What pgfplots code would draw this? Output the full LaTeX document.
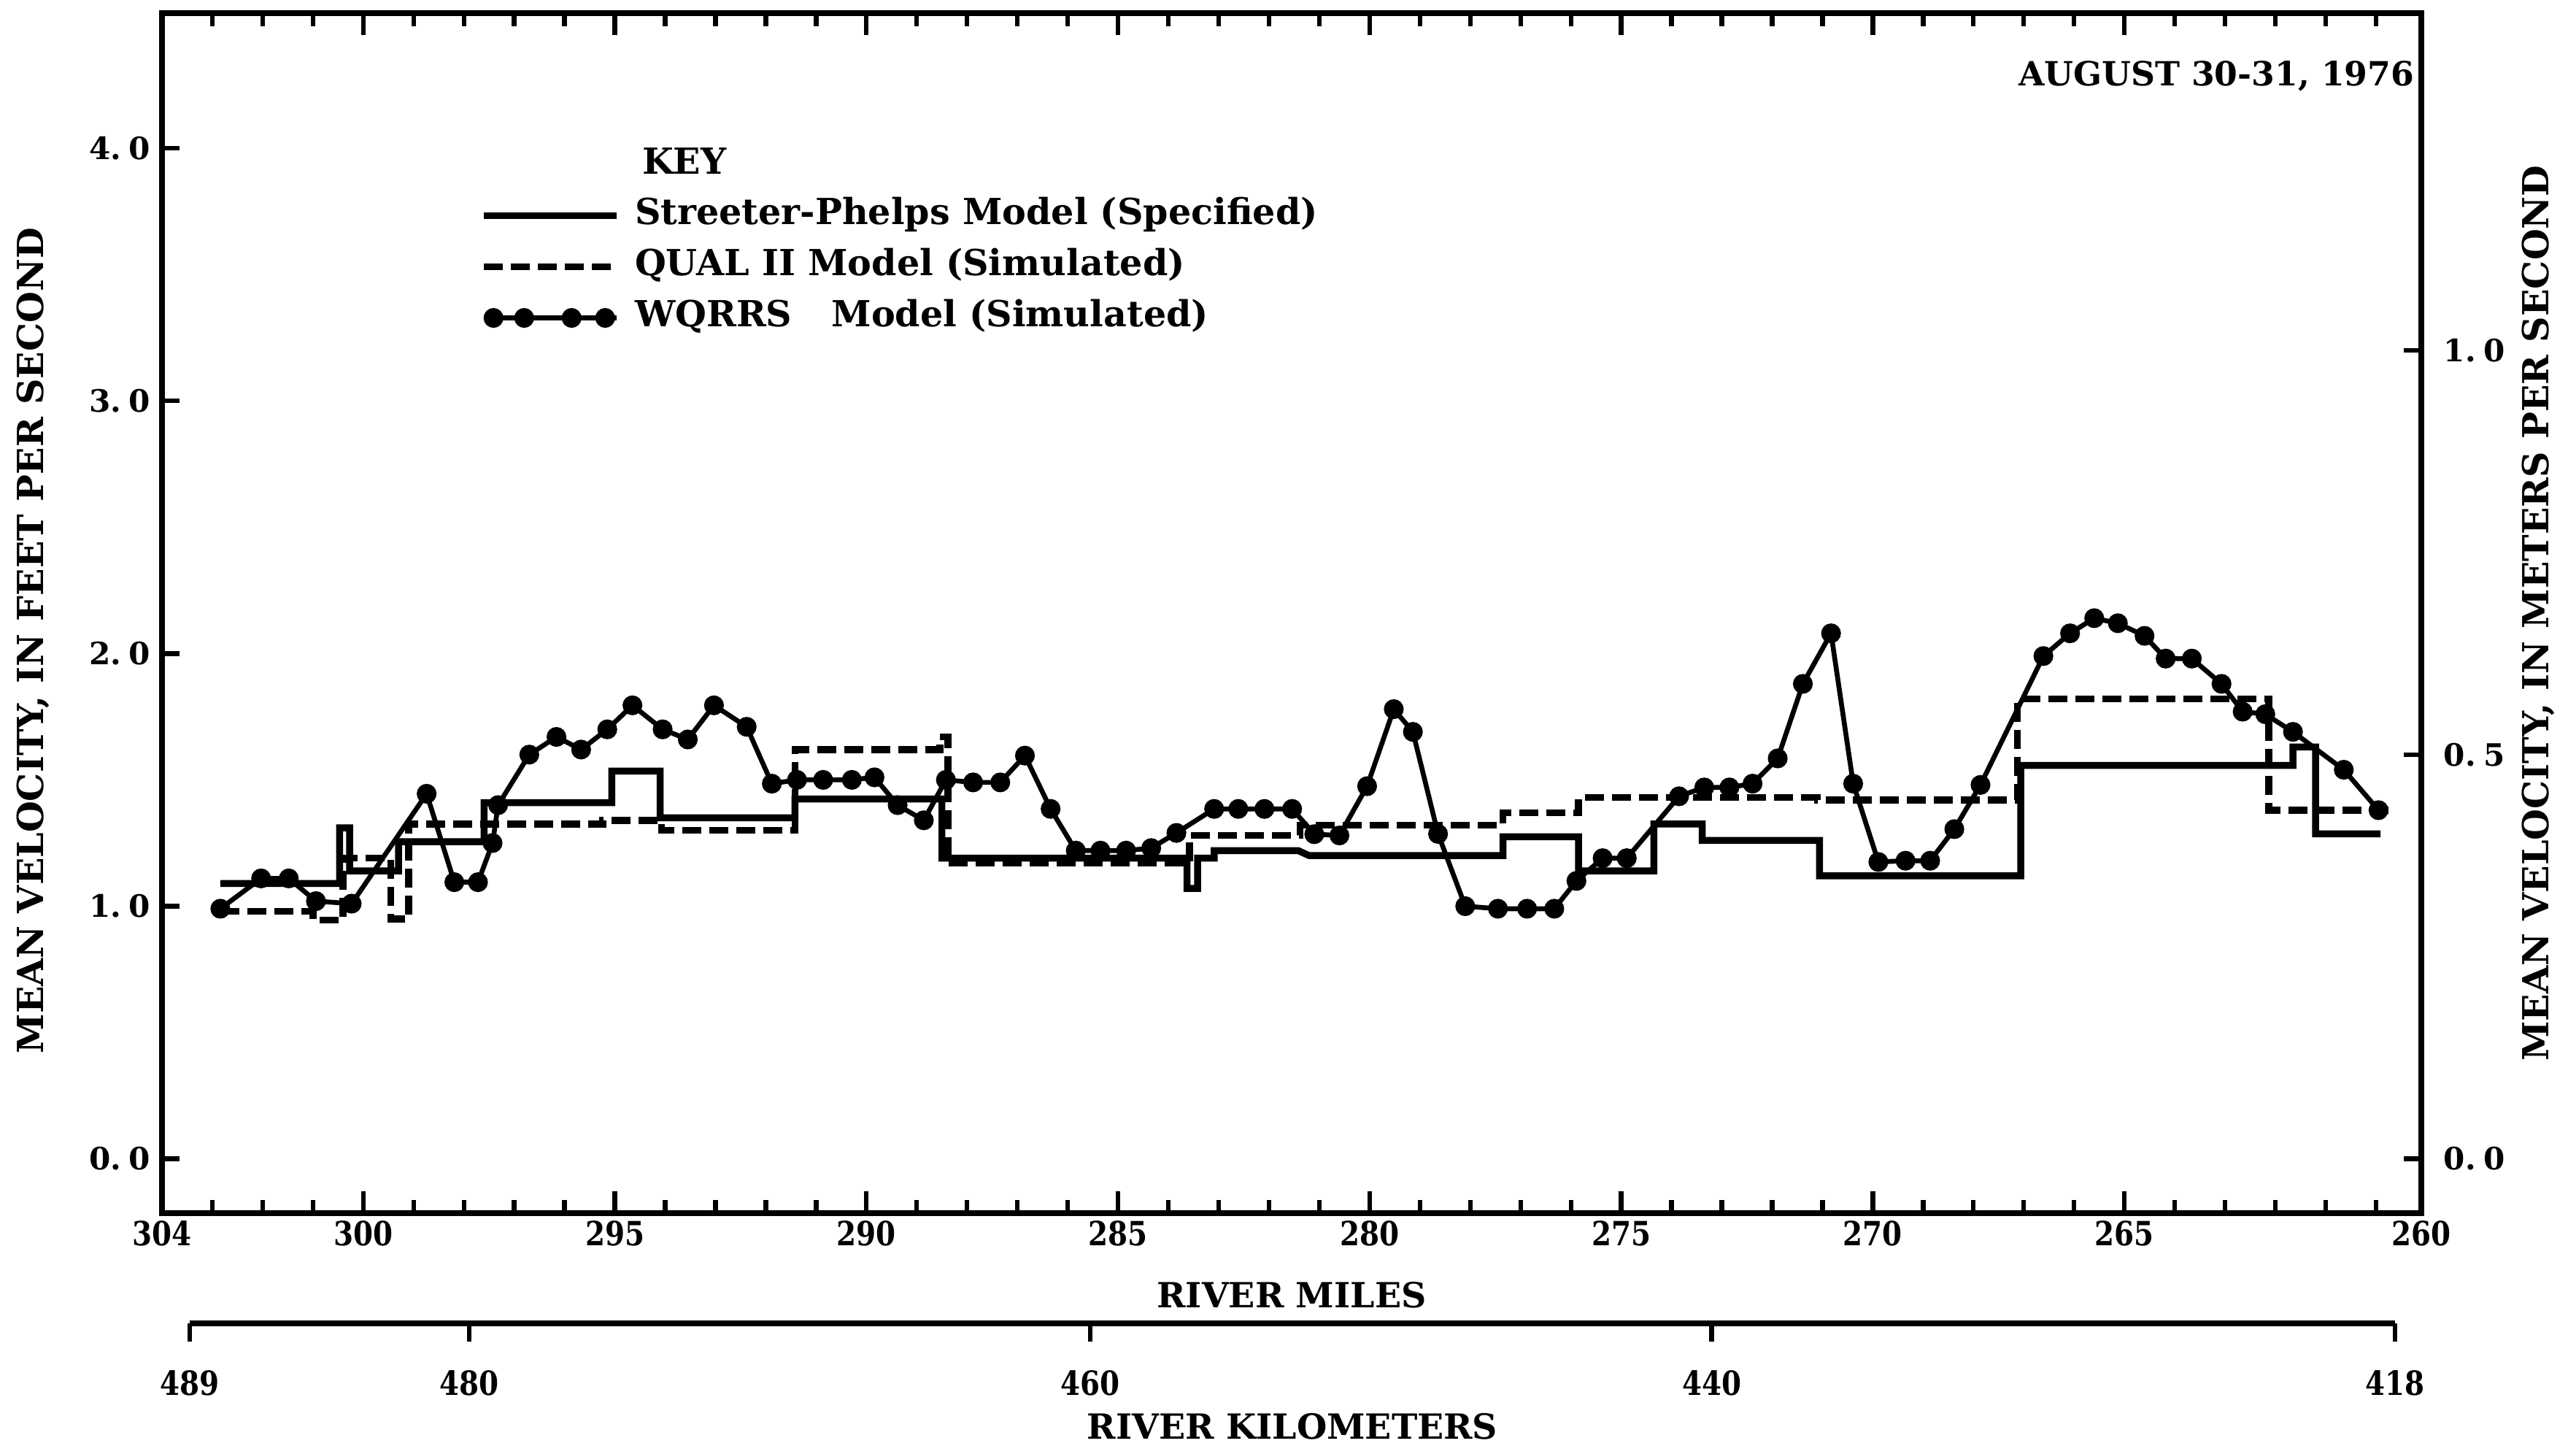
\documentclass[border=0pt]{standalone}
\usepackage{pgfplots}
\pgfplotsset{compat=1.18}
\usepackage{pgfplotstable}
\usepackage{fontspec}
\setmainfont{DejaVu Serif}
\newfontfamily\condfont{DejaVu Serif}[FakeStretch=0.85]

\pgfplotstableread{
x y
302.84 1.09
300.47 1.09
300.47 1.31
300.27 1.31
300.27 1.14
299.30 1.14
299.30 1.255
297.60 1.255
297.60 1.41
295.06 1.41
295.06 1.535
294.10 1.535
294.10 1.35
291.42 1.35
291.42 1.424
288.50 1.424
288.50 1.19
283.63 1.19
283.63 1.07
283.42 1.07
283.42 1.19
283.09 1.19
283.09 1.22
281.42 1.22
281.20 1.20
277.35 1.20
277.35 1.275
275.85 1.275
275.85 1.14
274.35 1.14
274.35 1.325
273.39 1.325
273.39 1.26
271.06 1.26
271.06 1.12
267.06 1.12
267.06 1.557
261.65 1.557
261.65 1.63
261.20 1.63
261.20 1.286
259.91 1.286
}\sptable

\pgfplotstableread{
x y
302.84 0.98
301.00 0.98
301.00 0.945
300.40 0.945
300.40 1.19
299.45 1.19
299.45 0.95
299.10 0.95
299.10 1.325
295.24 1.325
295.24 1.34
294.07 1.34
294.07 1.30
291.42 1.30
291.42 1.62
288.54 1.62
288.54 1.67
288.38 1.67
288.38 1.17
283.58 1.17
283.58 1.28
281.38 1.28
281.38 1.32
277.35 1.32
277.35 1.37
275.85 1.37
275.85 1.43
271.10 1.43
271.10 1.42
267.13 1.42
267.13 1.82
262.13 1.82
262.13 1.38
259.70 1.38
}\qualtable

\pgfplotstableread{
x y
302.84 0.99
302.03 1.11
301.48 1.11
300.94 1.02
300.23 1.01
298.74 1.445
298.19 1.095
297.72 1.095
297.43 1.25
297.32 1.40
296.70 1.60
296.16 1.67
295.67 1.62
295.15 1.70
294.65 1.795
294.05 1.70
293.55 1.66
293.03 1.795
292.38 1.71
291.88 1.485
291.38 1.50
290.86 1.50
290.29 1.50
289.84 1.51
289.38 1.40
288.86 1.34
288.42 1.50
287.88 1.49
287.34 1.49
286.85 1.596
286.34 1.385
285.84 1.22
285.35 1.22
284.84 1.22
284.34 1.23
283.84 1.29
283.09 1.385
282.61 1.385
282.09 1.385
281.54 1.385
281.10 1.285
280.60 1.28
280.05 1.475
279.52 1.78
279.14 1.69
278.64 1.286
278.10 1.00
277.45 0.99
276.87 0.99
276.33 0.99
275.89 1.10
275.37 1.19
274.89 1.19
273.85 1.435
273.35 1.47
272.85 1.47
272.39 1.485
271.89 1.585
271.39 1.88
270.83 2.08
270.39 1.485
269.89 1.175
269.35 1.18
268.86 1.18
268.38 1.305
267.86 1.48
266.61 1.99
266.08 2.08
265.60 2.14
265.13 2.12
264.60 2.07
264.18 1.98
263.66 1.98
263.07 1.88
262.65 1.77
262.20 1.76
261.65 1.69
260.64 1.54
259.95 1.38
}\wqtable

% positions of the short mile ticks and of the long 5-mile ticks (bottom and top edges)
\pgfplotstableread{
x lo hi
260 -0.215 4.535
261 -0.215 4.535
262 -0.215 4.535
263 -0.215 4.535
264 -0.215 4.535
266 -0.215 4.535
267 -0.215 4.535
268 -0.215 4.535
269 -0.215 4.535
271 -0.215 4.535
272 -0.215 4.535
273 -0.215 4.535
274 -0.215 4.535
276 -0.215 4.535
277 -0.215 4.535
278 -0.215 4.535
279 -0.215 4.535
281 -0.215 4.535
282 -0.215 4.535
283 -0.215 4.535
284 -0.215 4.535
286 -0.215 4.535
287 -0.215 4.535
288 -0.215 4.535
289 -0.215 4.535
291 -0.215 4.535
292 -0.215 4.535
293 -0.215 4.535
294 -0.215 4.535
296 -0.215 4.535
297 -0.215 4.535
298 -0.215 4.535
299 -0.215 4.535
301 -0.215 4.535
302 -0.215 4.535
303 -0.215 4.535
}\minorticks
\pgfplotstableread{
x lo hi
265 -0.215 4.535
270 -0.215 4.535
275 -0.215 4.535
280 -0.215 4.535
285 -0.215 4.535
290 -0.215 4.535
295 -0.215 4.535
300 -0.215 4.535
}\majorticks

\begin{document}
\begin{tikzpicture}
\path[use as bounding box] (0,0) rectangle (35.30cm,19.81cm);

% main axis (feet per second, river miles)
\begin{axis}[
  at={(2.22cm,3.19cm)}, anchor=south west,
  scale only axis, width=30.96cm, height=16.44cm,
  x dir=reverse, xmin=259.1, xmax=304,
  ymin=-0.215, ymax=4.535,
  clip=false,
  axis line style={line width=2.1pt},
  major tick length=0pt,
  xtick={304,300,295,290,285,280,275,270,265,259.1},
  xticklabels={304,300,295,290,285,280,275,270,265,260},
  ytick={0,1,2,3,4},
  yticklabels={0.\hspace{0.25em}0,1.\hspace{0.25em}0,2.\hspace{0.25em}0,3.\hspace{0.25em}0,4.\hspace{0.25em}0},
  ytick pos=left,
  xticklabel style={font=\condfont\bfseries\fontsize{13}{15}\selectfont, anchor=north, inner sep=0pt, yshift=-0.10cm},
  xticklabel pos=bottom,
  yticklabel style={font=\bfseries\fontsize{12}{14}\selectfont, anchor=east, inner sep=0pt, xshift=-0.15cm},
  xlabel={RIVER MILES},
  every axis x label/.style={at={(axis description cs:0.5,0)}, anchor=center, yshift=-1.12cm, font=\bfseries\fontsize{13.5}{16}\selectfont},
  ylabel={MEAN VELOCITY, IN FEET PER SECOND},
  every axis y label/.style={at={(axis description cs:-0.0572,0.477)}, anchor=center, rotate=90, font=\bfseries\fontsize{14}{17}\selectfont},
  legend style={at={(0.1408,0.889)}, anchor=north west, draw=none, fill=none, inner sep=0pt,
    row sep=5.9pt, column sep=0.2cm, font=\bfseries\fontsize{14}{17}\selectfont,
    nodes={inner sep=0pt, text height=10.5pt, text depth=3.5pt}},
  legend cell align=left,
]
% tick marks pointing into the frame
\addplot[forget plot, only marks, mark=|, mark size=0.09cm, mark options={yshift=0.09cm, line width=1.8pt, black}]
  table[x=x, y=lo] {\minorticks};
\addplot[forget plot, only marks, mark=|, mark size=0.15cm, mark options={yshift=0.15cm, line width=1.8pt, black}]
  table[x=x, y=lo] {\majorticks};
\addplot[forget plot, only marks, mark=|, mark size=0.09cm, mark options={yshift=-0.09cm, line width=1.8pt, black}]
  table[x=x, y=hi] {\minorticks};
\addplot[forget plot, only marks, mark=|, mark size=0.15cm, mark options={yshift=-0.15cm, line width=1.8pt, black}]
  table[x=x, y=hi] {\majorticks};
\addplot[forget plot, only marks, mark=-, mark size=0.12cm, mark options={xshift=0.12cm, line width=1.8pt, black}]
  coordinates {(304,0) (304,1) (304,2) (304,3) (304,4)};
\addplot[forget plot, only marks, mark=-, mark size=0.12cm, mark options={xshift=-0.12cm, line width=1.8pt, black}]
  coordinates {(259.1,0) (259.1,1.6) (259.1,3.2)};

\addlegendimage{empty legend}
\addlegendentry{\hspace{0.1cm}KEY}

\addplot[black, line width=2.7pt, line join=miter,
  legend image code/.code={\draw[line width=2.7pt] (0cm,0cm) -- (1.82cm,0cm);}]
  table[x=x,y=y] {\sptable};
\addlegendentry{Streeter-Phelps Model (Specified)}

\addplot[black, line width=2.7pt, dash pattern=on 0.26cm off 0.11cm,
  legend image code/.code={\draw[line width=2.7pt, dash pattern=on 0.26cm off 0.11cm] (0cm,0cm) -- (1.82cm,0cm);}]
  table[x=x,y=y] {\qualtable};
\addlegendentry{QUAL II Model (Simulated)}

\addplot[black, line width=1.9pt, mark=*, mark size=2.9pt, mark options={solid, fill=black},
  legend image code/.code={\draw[line width=1.9pt] (0cm,0cm) -- (1.82cm,0cm);
    \draw[line width=1.9pt, mark=*, mark size=2.9pt, mark options={fill=black}, only marks] plot coordinates {(0.13cm,0cm) (0.55cm,0cm) (1.20cm,0cm) (1.66cm,0cm)};}]
  table[x=x,y=y] {\wqtable};
\addlegendentry{WQRRS\hspace{1.1em}Model (Simulated)}

\node[anchor=east, inner sep=0pt, font=\bfseries\fontsize{13}{15}\selectfont] at (axis description cs:0.9971,0.9477) {AUGUST 30-31, 1976};
\end{axis}

% right axis (meters per second)
\begin{axis}[
  at={(2.22cm,3.19cm)}, anchor=south west,
  scale only axis, width=30.96cm, height=16.44cm,
  x dir=reverse, xmin=259.1, xmax=304,
  ymin=-0.0672, ymax=1.4172,
  hide x axis,
  axis y line*=right,
  axis line style={line width=2.1pt},
  major tick length=0pt,
  ytick={0,0.5,1},
  yticklabels={0.\hspace{0.25em}0,0.\hspace{0.25em}5,1.\hspace{0.25em}0},
  yticklabel style={font=\bfseries\fontsize{12}{14}\selectfont, anchor=west, inner sep=0pt, xshift=0.3cm},
  ylabel={MEAN VELOCITY, IN METERS PER SECOND},
  every axis y label/.style={at={(axis description cs:1.0517,0.5)}, anchor=center, rotate=90, font=\bfseries\fontsize{14}{17}\selectfont},
]
\addplot[draw=none] coordinates {(300,0.2) (270,0.2)};
\end{axis}

% river kilometers scale
\begin{axis}[
  at={(2.60cm,1.68cm)}, anchor=south west,
  scale only axis, width=30.22cm, height=1cm,
  x dir=reverse, xmin=418, xmax=489,
  ymin=0, ymax=1,
  hide y axis,
  axis x line*=bottom,
  axis line style={line width=2.1pt},
  major tick length=0pt,
  xtick={489,480,460,440,418},
  xticklabels={489,480,460,440,418},
  xticklabel style={font=\condfont\bfseries\fontsize{13}{15}\selectfont, anchor=north, inner sep=0pt, yshift=-0.64cm},
  xlabel={RIVER KILOMETERS},
  every axis x label/.style={at={(axis description cs:0.5,0)}, anchor=center, yshift=-1.41cm, font=\bfseries\fontsize{13.5}{16}\selectfont},
]
\addplot[only marks, mark=|, mark size=0.125cm, mark options={yshift=-0.125cm, line width=1.8pt, black}]
  coordinates {(489,0) (480,0) (460,0) (440,0) (418,0)};
\end{axis}
\end{tikzpicture}
\end{document}
